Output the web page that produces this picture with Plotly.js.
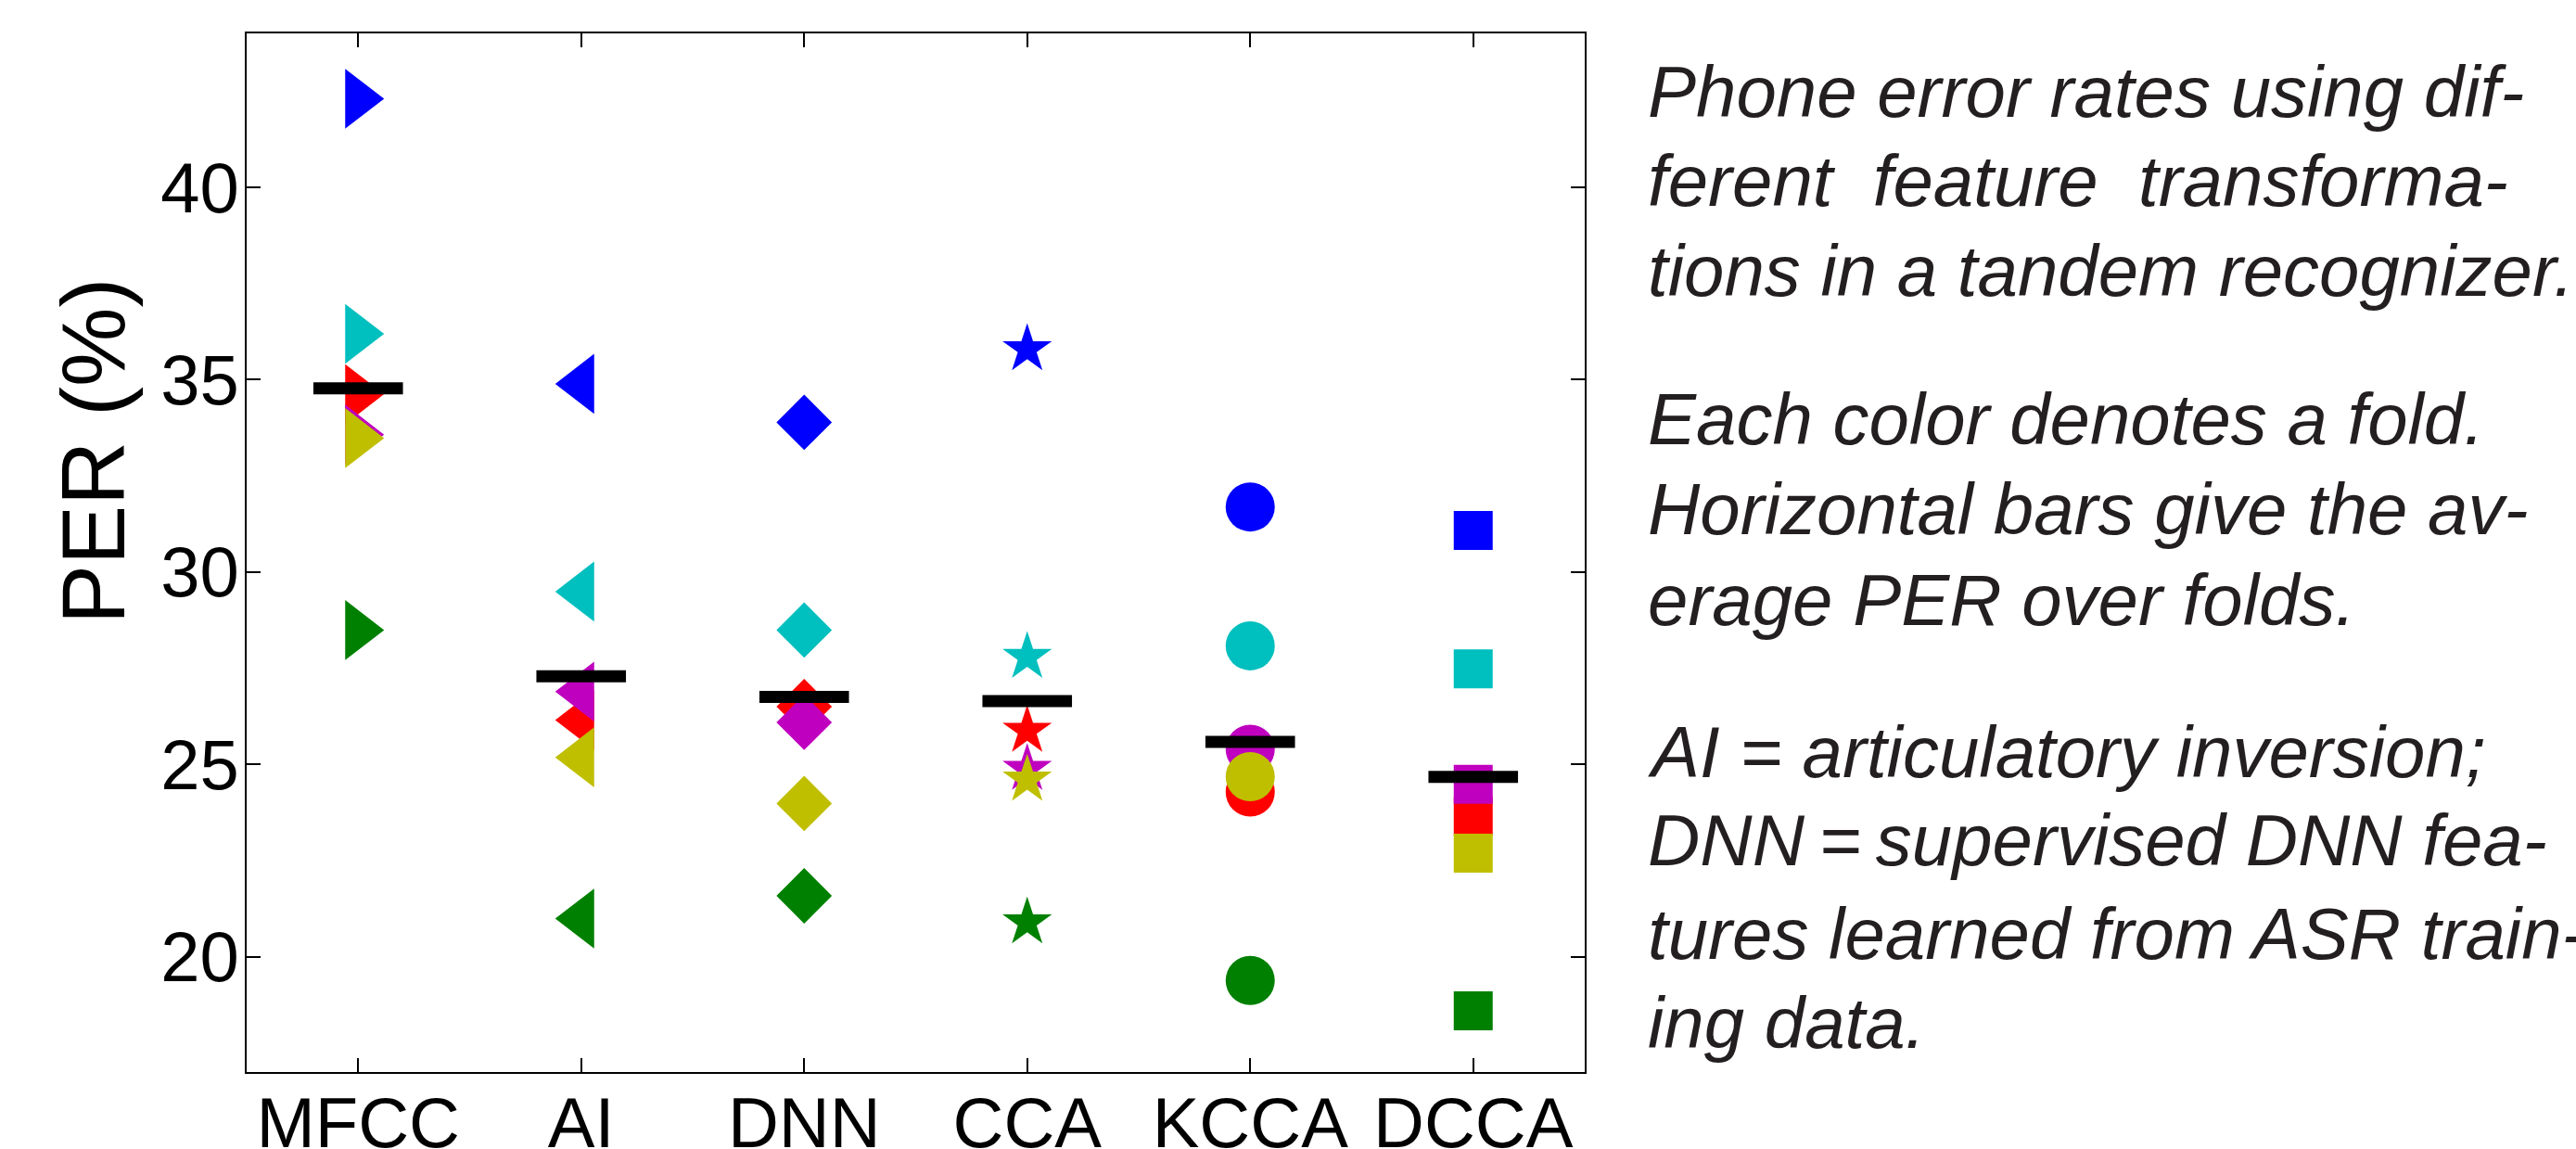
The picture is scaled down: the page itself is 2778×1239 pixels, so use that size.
<!DOCTYPE html>
<html>
<head>
<meta charset="utf-8">
<script src="https://cdn.plot.ly/plotly-3.0.1.min.js"></script>
<style>html,body{margin:0;padding:0;background:#fff;}#chart{width:2778px;height:1239px;}</style>
</head>
<body>
<div id="chart"></div>
<script>
// ---- data ----
const categories = ['MFCC', 'AI', 'DNN', 'CCA', 'KCCA', 'DCCA'];
const foldBlue    = [42.30, 34.89, 33.89, 35.79, 31.69, 31.08];
const foldCyan    = [36.19, 29.49, 28.49, 27.79, 28.08, 27.48];
const foldRed     = [34.62, 26.15, 26.50, 25.87, 24.28, 23.65];
const foldMagenta = [33.57, 26.89, 26.09, 24.88, 25.39, 24.48];
const foldYellow  = [33.48, 25.18, 23.98, 24.60, 24.68, 22.69];
const foldGreen   = [28.49, 20.99, 21.58, 20.89, 19.38, 18.59];
const meanPER     = [34.77, 27.29, 26.75, 26.64, 25.58, 24.67];
const yTickVals   = [20, 25, 30, 35, 40];
const captionLines = [
  'Phone error rates using dif-',
  'ferent\u00a0 feature\u00a0 transforma-',
  'tions in a tandem recognizer.',
  'Each\u00a0color\u00a0denotes\u00a0a\u00a0fold.',
  'Horizontal bars give the av-',
  'erage PER over folds.',
  'AI\u00a0=\u00a0articulatory\u00a0inversion;',
  'DNN\u2009=\u2009supervised DNN fea-',
  'tures learned from ASR train-',
  'ing data.'
];

// ---- styles ----
const folds = [
  {vals: foldBlue, color: '#0000ff'},
  {vals: foldCyan, color: '#00bfbf'},
  {vals: foldRed, color: '#ff0000'},
  {vals: foldMagenta, color: '#bf00bf'},
  {vals: foldYellow, color: '#bfbf00'},
  {vals: foldGreen, color: '#008000'}
];
const symbols = ['triangle-right', 'triangle-left', 'diamond', 'star', 'circle', 'square'];
const sizes = [56, 56, 46, 40, 53, 42];

const traces = folds.map(f => ({
  type: 'scatter', mode: 'markers', x: categories, y: f.vals,
  marker: {symbol: symbols, size: sizes, color: f.color, opacity: 1, line: {width: 0}},
  hoverinfo: 'skip'
}));
traces.push({
  type: 'scatter', mode: 'markers', x: categories, y: meanPER,
  marker: {symbol: 'line-ew', size: 69, color: '#000', opacity: 1, line: {width: 13, color: '#000'}},
  hoverinfo: 'skip'
});

// layout geometry
const W = 2778, H = 1239;
const L = 266, R = 1709, T = 36, B = 1156;
const pw = R - L, ph = B - T;
const baselines = [126, 222, 319, 479, 576, 674, 838, 933, 1034, 1130];
const capFont = 78;
const annotations = captionLines.map((t, i) => ({
  text: t, xref: 'paper', yref: 'paper',
  x: (1775 - L) / pw, y: (B - (baselines[i] - 0.3465 * capFont)) / ph,
  xanchor: 'left', yanchor: 'middle', showarrow: false,
  font: {family: 'Liberation Sans, Arial, sans-serif', size: capFont, color: '#231f20', style: 'italic'}
}));
annotations.push({
  text: 'PER (%)', xref: 'paper', yref: 'paper',
  x: (100 - L) / pw, y: (B - 487) / ph, textangle: -90,
  xanchor: 'center', yanchor: 'middle', showarrow: false,
  font: {family: 'Liberation Sans, Arial, sans-serif', size: 96, color: '#000'}
});

const axisCommon = {
  showline: true, linecolor: '#000', linewidth: 2, mirror: 'ticks',
  ticks: 'inside', ticklen: 15, tickwidth: 2, tickcolor: '#000',
  showgrid: false, zeroline: false,
  tickfont: {family: 'Liberation Sans, Arial, sans-serif', size: 76, color: '#000'}
};

const layout = {
  width: W, height: H,
  margin: {l: L, r: W - R, t: T, b: H - B, pad: 0},
  paper_bgcolor: '#fff', plot_bgcolor: '#fff',
  showlegend: false,
  xaxis: Object.assign({}, axisCommon, {type: 'category', categoryorder: 'array', categoryarray: categories, range: [-0.5, 5.5], ticklabelstandoff: -12}),
  yaxis: Object.assign({}, axisCommon, {range: [17, 44], tickvals: yTickVals, ticktext: yTickVals.map(String), ticklabelstandoff: -9}),
  annotations: annotations
};

Plotly.newPlot('chart', traces, layout, {staticPlot: true, displayModeBar: false});
</script>
</body>
</html>
